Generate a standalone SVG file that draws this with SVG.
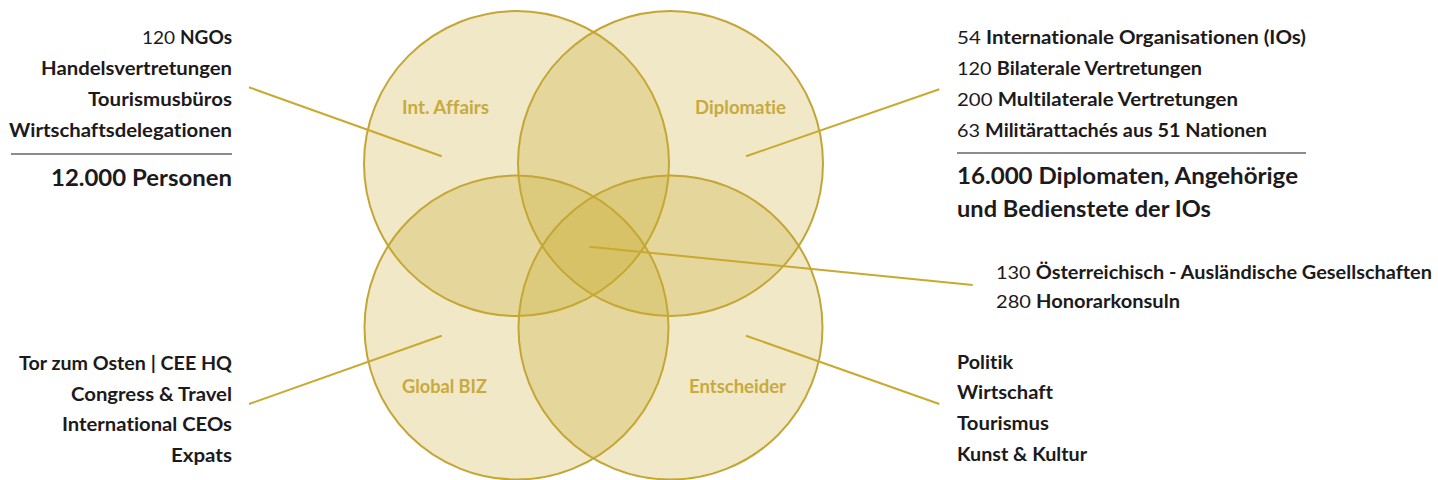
<svg xmlns="http://www.w3.org/2000/svg" width="1438" height="480" viewBox="0 0 1438 480">
<style>
text{font-variant-ligatures:none}
.c{fill:rgb(201,169,43);fill-opacity:0.27;stroke:#c4a636;stroke-width:2}
.ln{stroke:#c9a92e;stroke-width:2;fill:none}
.lbl{font-family:Lato,"Open Sans",sans-serif;font-weight:700;font-size:18px;fill:#c8aa3e}
.t{font-family:Lato,"Open Sans",sans-serif;font-weight:700;font-size:18px;fill:#1c1a1a}
.n{font-weight:400}
.big{font-family:Lato,"Open Sans",sans-serif;font-weight:700;font-size:23px;fill:#1c1a1a}
.rule{stroke:#1c1a1a;stroke-width:1.2}
</style>
<rect width="1438" height="480" fill="#ffffff"/>
<g id="circle-int-affairs"><circle class="c" cx="516.5" cy="163.5" r="152.5"/></g>
<g id="circle-diplomatie"><circle class="c" cx="670.5" cy="163.5" r="152.5"/></g>
<g id="circle-global-biz"><circle class="c" cx="516.5" cy="327.5" r="152"/></g>
<g id="circle-entscheider"><circle class="c" cx="670.5" cy="327.5" r="152"/></g>
<g id="circle-labels">
<text class="lbl" x="402" y="114" textLength="87" lengthAdjust="spacingAndGlyphs">Int. Affairs</text>
<text class="lbl" x="695" y="114" textLength="91" lengthAdjust="spacingAndGlyphs">Diplomatie</text>
<text class="lbl" x="402" y="393" textLength="85" lengthAdjust="spacingAndGlyphs">Global BIZ</text>
<text class="lbl" x="689" y="393" textLength="97" lengthAdjust="spacingAndGlyphs">Entscheider</text>
</g>
<g id="connectors">
<line class="ln" x1="249" y1="87.3" x2="441.7" y2="156.3"/>
<line class="ln" x1="746" y1="156.3" x2="939.3" y2="89.3"/>
<line class="ln" x1="249" y1="404" x2="441.7" y2="335.7"/>
<line class="ln" x1="746" y1="335.7" x2="939.3" y2="404"/>
<line class="ln" x1="589.3" y1="246.7" x2="972.7" y2="285"/>
</g>
<g id="text-int-affairs">
<text class="t" x="232" y="44" text-anchor="end" textLength="90" lengthAdjust="spacingAndGlyphs"><tspan class="n">120 </tspan>NGOs</text>
<text class="t" x="232" y="75" text-anchor="end" textLength="191" lengthAdjust="spacingAndGlyphs">Handelsvertretungen</text>
<text class="t" x="232" y="106" text-anchor="end" textLength="144" lengthAdjust="spacingAndGlyphs">Tourismusbüros</text>
<text class="t" x="232" y="137" text-anchor="end" textLength="223" lengthAdjust="spacingAndGlyphs">Wirtschaftsdelegationen</text>
<line class="rule" x1="11" y1="154" x2="232" y2="154"/>
<text class="big" x="232" y="186" text-anchor="end" textLength="181" lengthAdjust="spacingAndGlyphs">12.000 Personen</text>
</g>
<g id="text-diplomatie">
<text class="t" x="957" y="44" textLength="349" lengthAdjust="spacingAndGlyphs"><tspan class="n">54 </tspan>Internationale Organisationen (IOs)</text>
<text class="t" x="957" y="75" textLength="245" lengthAdjust="spacingAndGlyphs"><tspan class="n">120 </tspan>Bilaterale Vertretungen</text>
<text class="t" x="957" y="106" textLength="281" lengthAdjust="spacingAndGlyphs"><tspan class="n">200 </tspan>Multilaterale Vertretungen</text>
<text class="t" x="957" y="137" textLength="310" lengthAdjust="spacingAndGlyphs"><tspan class="n">63 </tspan>Militärattachés aus 51 Nationen</text>
<line class="rule" x1="957" y1="153" x2="1306" y2="153"/>
<text class="big" x="957" y="184" textLength="341" lengthAdjust="spacingAndGlyphs">16.000 Diplomaten, Angehörige</text>
<text class="big" x="957" y="217" textLength="254" lengthAdjust="spacingAndGlyphs">und Bedienstete der IOs</text>
</g>
<g id="text-center">
<text class="t" x="996" y="279" textLength="436" lengthAdjust="spacingAndGlyphs"><tspan class="n">130 </tspan>Österreichisch - Ausländische Gesellschaften</text>
<text class="t" x="996" y="308" textLength="184" lengthAdjust="spacingAndGlyphs"><tspan class="n">280 </tspan>Honorarkonsuln</text>
</g>
<g id="text-global-biz">
<text class="t" x="232" y="370" text-anchor="end" textLength="213" lengthAdjust="spacingAndGlyphs">Tor zum Osten | CEE HQ</text>
<text class="t" x="232" y="401" text-anchor="end" textLength="161" lengthAdjust="spacingAndGlyphs">Congress &amp; Travel</text>
<text class="t" x="232" y="431" text-anchor="end" textLength="170" lengthAdjust="spacingAndGlyphs">International CEOs</text>
<text class="t" x="232" y="462" text-anchor="end" textLength="61" lengthAdjust="spacingAndGlyphs">Expats</text>
</g>
<g id="text-entscheider">
<text class="t" x="957" y="369" textLength="56" lengthAdjust="spacingAndGlyphs">Politik</text>
<text class="t" x="957" y="399" textLength="96" lengthAdjust="spacingAndGlyphs">Wirtschaft</text>
<text class="t" x="957" y="430" textLength="92" lengthAdjust="spacingAndGlyphs">Tourismus</text>
<text class="t" x="957" y="461" textLength="130" lengthAdjust="spacingAndGlyphs">Kunst &amp; Kultur</text>
</g>
</svg>
